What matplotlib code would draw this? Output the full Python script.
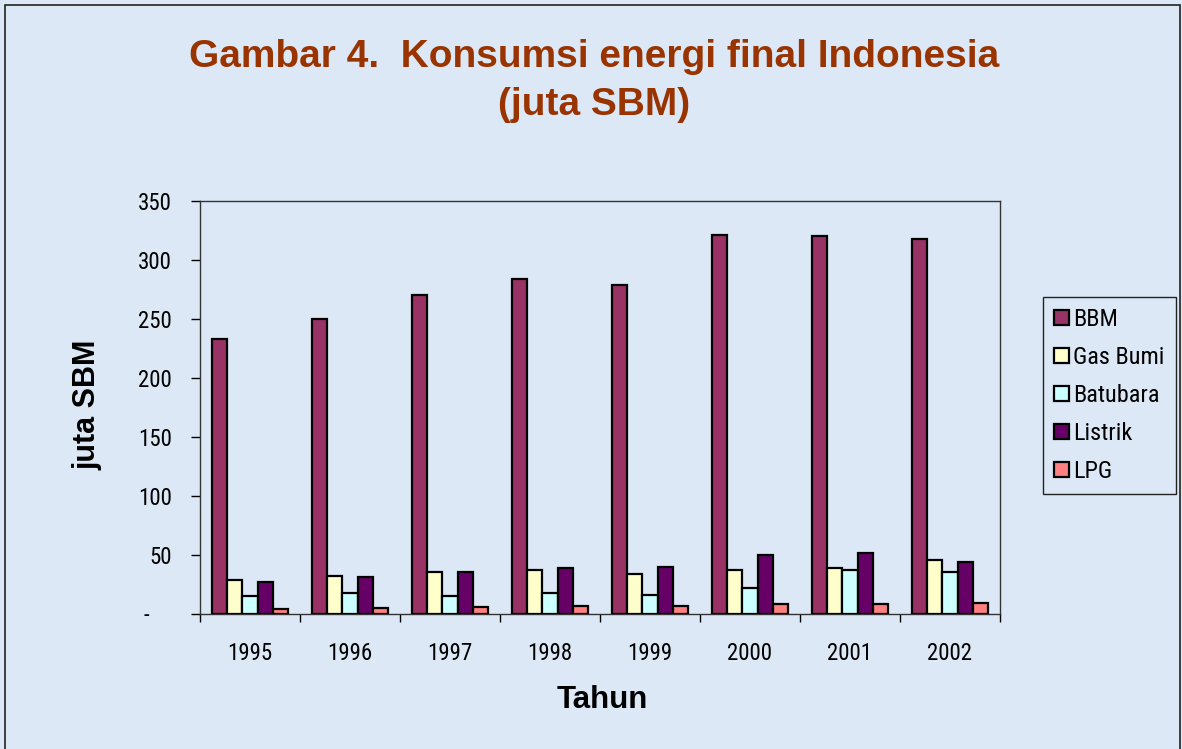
import matplotlib
matplotlib.use("Agg")
import matplotlib.pyplot as plt
import numpy as np
from matplotlib.patches import Rectangle

years = ["1995", "1996", "1997", "1998", "1999", "2000", "2001", "2002"]
bbm = [233, 250, 270, 284, 279, 321, 320, 318]
gas_bumi = [29, 32, 36, 37, 34, 37, 39, 46]
batubara = [15, 17.5, 15, 17.5, 16, 22, 37, 36]
listrik = [27, 31, 36, 39, 40, 50, 52, 44]
lpg = [4.5, 5.3, 6.2, 6.8, 6.8, 8.5, 8.2, 9.6]

series = [
    ("BBM", bbm, "#993366"),
    ("Gas Bumi", gas_bumi, "#FFFFCC"),
    ("Batubara", batubara, "#CCFFFF"),
    ("Listrik", listrik, "#660066"),
    ("LPG", lpg, "#FF8080"),
]

bg = "#dce8f6"
narrow = ["Roboto Condensed", "Liberation Sans", "DejaVu Sans"]
bold = ["Liberation Sans", "DejaVu Sans"]

W, H = 1182, 749
fig = plt.figure(figsize=(W / 100, H / 100), dpi=100)
fig.patch.set_facecolor(bg)

# outer frame of the slide
fig.patches.append(Rectangle((5 / W, -0.01), 1175 / W, 1 - 5 / H + 0.01,
                             transform=fig.transFigure, fill=False,
                             edgecolor="#222222", linewidth=1.2))

ax = fig.add_axes([200 / W, (H - 614) / H, 800 / W, 413 / H])
ax.set_facecolor("none")

x = np.arange(len(years))
w = 0.152
for i, (name, vals, color) in enumerate(series):
    ax.bar(x + (i - 2) * w, vals, width=w, color=color, edgecolor="black",
           linewidth=1.6, label=name, zorder=3)

ax.set_xlim(-0.5, len(years) - 0.5)
ax.set_ylim(0, 350)
ax.set_yticks(range(0, 351, 50))
ax.set_yticklabels([""] + [str(v) for v in range(50, 351, 50)],
                   family=narrow, fontsize=16.5)
ax.set_xticks(x)
ax.set_xticklabels(years, family=narrow, fontsize=16.5)
ax.set_xticks(np.arange(-0.5, len(years)), minor=True)
ax.tick_params(axis="x", which="major", length=0, pad=20)
ax.tick_params(axis="x", which="minor", length=5.8, width=1, direction="out")
ax.tick_params(axis="y", length=6.5, width=1, pad=13.5)

for s in ax.spines.values():
    s.set_linewidth(1.0)
    s.set_color("#333333")

# zero shown as a dash (accounting format)
fig.text(146 / W, 1 - 616 / H, "-", ha="center", va="center",
         fontsize=16.5, family=narrow)

fig.text(594 / W, 1 - 57 / H, "Gambar 4.  Konsumsi energi final Indonesia",
         ha="center", va="center", fontsize=28, fontweight="bold",
         color="#993300", family=bold)
fig.text(594 / W, 1 - 105 / H, "(juta SBM)", ha="center", va="center",
         fontsize=28, fontweight="bold", color="#993300", family=bold)

fig.text(88 / W, 1 - 405 / H, "juta SBM", ha="center", va="center",
         rotation=90, fontsize=22, fontweight="bold", family=bold)
fig.text(602 / W, 1 - 700 / H, "Tahun", ha="center", va="center",
         fontsize=22.5, fontweight="bold", family=bold)

leg = ax.legend(loc="upper left", bbox_to_anchor=(1043 / W, 1 - 297 / H),
                bbox_transform=fig.transFigure, prop={"family": narrow, "size": 17.5},
                frameon=True, fancybox=False, framealpha=1, facecolor=bg,
                edgecolor="#222222", handlelength=0.6, handleheight=0.6,
                handletextpad=0.2, labelspacing=0.62, borderpad=0.45,
                borderaxespad=0)
leg.get_frame().set_linewidth(1.0)

fig.savefig("out.png", dpi=100, facecolor=bg)
